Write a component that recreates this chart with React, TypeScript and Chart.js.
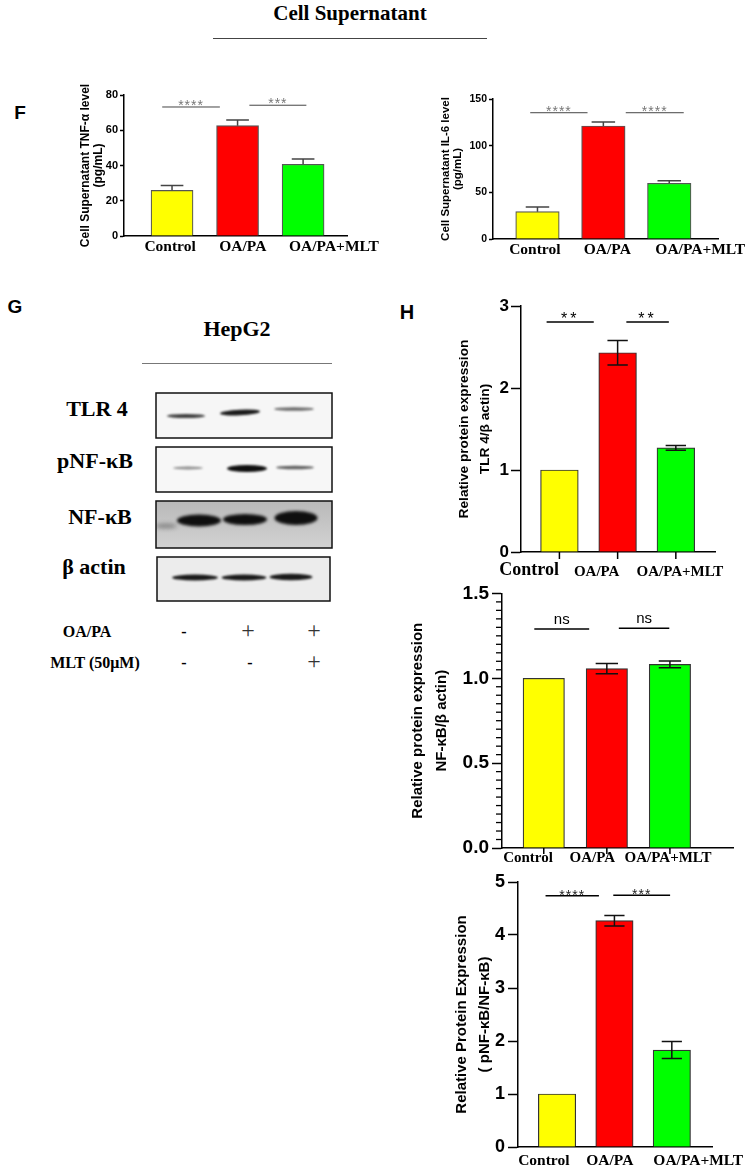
import React, { useEffect, useRef } from 'react';
import { Chart, registerables } from 'chart.js';
Chart.register(...registerables);

const SANS = 'Arial, "Liberation Sans", Helvetica, sans-serif';
const SERIF = '"Times New Roman", "Liberation Serif", Times, serif';

// ---------- data ----------
const categories = ['Control', 'OA/PA', 'OA/PA+MLT'];
const barColors = ['#FFFF00', '#FF0000', '#00FF00'];

const tnfMean = [25.9, 62.6, 40.7];
const tnfErr = [2.7, 3.2, 3.0];
const tnfTicks = [0, 20, 40, 60, 80];

const il6Mean = [29.3, 121.1, 59.7];
const il6Err = [5.0, 4.3, 2.8];
const il6Ticks = [0, 50, 100, 150];

const tlr4Mean = [1.0, 2.43, 1.27];
const tlr4Err = [0, 0.15, 0.03];
const tlr4Ticks = [0, 1, 2, 3];

const nfkbMean = [1.0, 1.057, 1.082];
const nfkbErr = [0, 0.03, 0.02];
const nfkbTicks = [0, 0.5, 1.0, 1.5];

const pnfMean = [1.0, 4.27, 1.83];
const pnfErr = [0, 0.1, 0.16];
const pnfTicks = [0, 1, 2, 3, 4, 5];

// significance annotations (data units)
const tnfSig = [
  { from: -0.15, to: 0.73, y: 73.2, text: '****' },
  { from: 1.18, to: 2.05, y: 74.2, text: '***' },
];
const il6Sig = [
  { from: -0.11, to: 0.76, y: 135.3, text: '****' },
  { from: 1.34, to: 2.22, y: 135.3, text: '****' },
];
const tlr4Sig = [
  { from: -0.22, to: 0.59, y: 2.805, text: '**' },
  { from: 1.15, to: 1.88, y: 2.805, text: '**' },
];
const nfkbSig = [
  { from: -0.15, to: 0.72, y: 1.29, text: 'ns' },
  { from: 1.19, to: 1.99, y: 1.294, text: 'ns' },
];
const pnfSig = [
  { from: -0.2, to: 0.73, y: 4.74, text: '****' },
  { from: 0.98, to: 1.97, y: 4.75, text: '***' },
];

const blotRows = ['TLR 4', 'pNF-\u03BAB', 'NF-\u03BAB', '\u03B2 actin'];
const oaPaRow = ['-', '+', '+'];
const mltRow = ['-', '-', '+'];

// ---------- chart specs ----------
const specs: any[] = [
  {
    key: 'tnf', mean: tnfMean, err: tnfErr, ticks: tnfTicks, fmt: (v: number) => String(v), both: false,
    title: ['Cell Supernatant TNF-\u03B1 level', '(pg/mL)'], titleSize: 12, titleLH: 13 / 12, titlePad: 9.5,
    left: 70, top: 83, w: 337, h: 183, padTop: 12, padRight: 60, yAxisW: 54, xAxisH: 30,
    yTickSize: 11, yTickLen: 4, yPad: 2, axisW: 1.5,
    xMin: -0.733, xMax: 2.67, labelAt: [-0.03, 1.08, 2.47], barW: 42,
    xFont: () => ({ family: SERIF, weight: 'bold', size: 15.5, lineHeight: 1.2 }), xPad: 2, xTickLen: 0,
    sig: tnfSig, sigFont: `14px ${SANS}`, sigSpacing: '1px', sigColor: '#777', lineColor: '#444', sigLW: 1, sigDy: 3,
    errColor: '#444', errLW: 1.5, border: '#555',
  },
  {
    key: 'il6', mean: il6Mean, err: il6Err, ticks: il6Ticks, fmt: (v: number) => String(v), both: false,
    title: ['Cell Supernatant IL-6 level', '(pg/mL)'], titleSize: 11.5, titleLH: 12 / 11.5, titlePad: 8,
    left: 432, top: 87, w: 326, h: 182, padTop: 12, padRight: 40, yAxisW: 61, xAxisH: 30,
    yTickSize: 10.5, yTickLen: 4, yPad: 2, axisW: 1.5,
    xMin: -0.675, xMax: 2.74, labelAt: [-0.04, 1.06, 2.47], barW: 43.5,
    xFont: () => ({ family: SERIF, weight: 'bold', size: 15.5, lineHeight: 1.2 }), xPad: 2, xTickLen: 0,
    sig: il6Sig, sigFont: `14px ${SANS}`, sigSpacing: '1px', sigColor: '#777', lineColor: '#444', sigLW: 1, sigDy: 3,
    errColor: '#444', errLW: 1.5, border: '#555',
  },
  {
    key: 'tlr4', mean: tlr4Mean, err: tlr4Err, ticks: tlr4Ticks, fmt: (v: number) => String(v), both: true,
    title: ['Relative protein expression', 'TLR 4/\u03B2 actin)'], titleSize: 13.7, titleLH: 21 / 13.7, titlePad: 9.5,
    left: 444, top: 292, w: 292, h: 290, padTop: 14, padRight: 20, yAxisW: 77, xAxisH: 30,
    yTickSize: 17, yTickLen: 10, yPad: 2, axisW: 1.5,
    xMin: -0.66, xMax: 2.68, labelAt: [-0.52, 0.64, 2.07], barW: 37.7,
    xFont: (c: any) => (c.index === 0
      ? { family: SERIF, weight: 'bold', size: 18, lineHeight: 1 }
      : { family: SERIF, weight: 'bold', size: 15, lineHeight: 1.53 }),
    xPad: 9, xTickLen: 7,
    sig: tlr4Sig, sigFont: `16px ${SANS}`, sigSpacing: '3px', sigColor: '#000', lineColor: '#000', sigLW: 1.5, sigDy: 2,
    errColor: '#111', errLW: 1.5, border: '#333',
  },
  {
    key: 'nfkb', mean: nfkbMean, err: nfkbErr, ticks: nfkbTicks, fmt: (v: number) => v.toFixed(1), both: true,
    title: ['Relative protein expression', 'NF-\u03BAB/\u03B2 actin)'], titleSize: 15, titleLH: 1.6, titlePad: 6,
    left: 400, top: 579, w: 343, h: 294, padTop: 14, padRight: 10, yAxisW: 102, xAxisH: 25,
    yTickSize: 19, yTickLen: 10, yPad: 3, axisW: 1.5, minorStep: 0.05, minorLen: 6,
    xMin: -0.662, xMax: 3.0, labelAt: [-0.25, 0.77, 1.97], barW: 41.4,
    xFont: () => ({ family: SERIF, weight: 'bold', size: 15, lineHeight: 1.2 }), xPad: 1, xTickLen: 6,
    sig: nfkbSig, sigFont: `15px ${SANS}`, sigSpacing: '0px', sigColor: '#000', lineColor: '#000', sigLW: 1.5, sigDy: -5,
    errColor: '#111', errLW: 1.5, border: '#333',
  },
  {
    key: 'pnf', mean: pnfMean, err: pnfErr, ticks: pnfTicks, fmt: (v: number) => String(v), both: true,
    title: ['Relative Protein Expression', '( pNF-\u03BAB/NF-\u03BAB)'], titleSize: 15, titleLH: 23 / 15, titlePad: 6.2,
    left: 444, top: 868, w: 308, h: 309, padTop: 14, padRight: 40, yAxisW: 74, xAxisH: 30,
    yTickSize: 18, yTickLen: 10, yPad: 3, axisW: 1.5,
    xMin: -0.68, xMax: 2.7, labelAt: [-0.23, 0.92, 2.46], barW: 37.4,
    xFont: () => ({ family: SERIF, weight: 'bold', size: 15.5, lineHeight: 1.2 }), xPad: 5, xTickLen: 0,
    sig: pnfSig, sigFont: `14px ${SANS}`, sigSpacing: '1px', sigColor: '#222', lineColor: '#000', sigLW: 1.5, sigDy: 4,
    errColor: '#111', errLW: 1.5, border: '#333',
  },
];

function makeExtras(s: any) {
  return {
    id: 'extras_' + s.key,
    afterDatasetsDraw(chart: any) {
      const { ctx, chartArea } = chart;
      const x = chart.scales.x;
      const y = chart.scales.y;
      ctx.save();
      // error bars
      ctx.strokeStyle = s.errColor;
      ctx.lineWidth = s.errLW;
      const cap = s.barW * 0.27;
      s.mean.forEach((m: number, i: number) => {
        const e = s.err[i];
        if (!e) return;
        const px = x.getPixelForValue(i);
        const top = y.getPixelForValue(m + e);
        const bot = s.both ? y.getPixelForValue(m - e) : y.getPixelForValue(m);
        ctx.beginPath();
        ctx.moveTo(px, top);
        ctx.lineTo(px, bot);
        ctx.moveTo(px - cap, top);
        ctx.lineTo(px + cap, top);
        if (s.both) {
          ctx.moveTo(px - cap, bot);
          ctx.lineTo(px + cap, bot);
        }
        ctx.stroke();
      });
      // x tick marks at bar centres
      if (s.xTickLen) {
        ctx.strokeStyle = '#000';
        ctx.lineWidth = 1.5;
        s.mean.forEach((_m: number, i: number) => {
          const px = x.getPixelForValue(i);
          ctx.beginPath();
          ctx.moveTo(px, chartArea.bottom);
          ctx.lineTo(px, chartArea.bottom + s.xTickLen);
          ctx.stroke();
        });
      }
      // minor y ticks
      if (s.minorStep) {
        ctx.strokeStyle = '#000';
        ctx.lineWidth = 1.3;
        const lo = s.ticks[0];
        const hi = s.ticks[s.ticks.length - 1];
        const n = Math.round((hi - lo) / s.minorStep);
        for (let k = 0; k <= n; k++) {
          const v = lo + k * s.minorStep;
          if (s.ticks.some((t: number) => Math.abs(t - v) < 1e-6)) continue;
          const py = y.getPixelForValue(v);
          ctx.beginPath();
          ctx.moveTo(chartArea.left - s.minorLen, py);
          ctx.lineTo(chartArea.left, py);
          ctx.stroke();
        }
      }
      // significance lines
      s.sig.forEach((g: any) => {
        const x1 = x.getPixelForValue(g.from);
        const x2 = x.getPixelForValue(g.to);
        const py = y.getPixelForValue(g.y);
        ctx.strokeStyle = s.lineColor;
        ctx.lineWidth = s.sigLW;
        ctx.beginPath();
        ctx.moveTo(x1, py);
        ctx.lineTo(x2, py);
        ctx.stroke();
        ctx.fillStyle = s.sigColor;
        ctx.font = s.sigFont;
        (ctx as any).letterSpacing = s.sigSpacing;
        ctx.textAlign = 'center';
        ctx.textBaseline = 'alphabetic';
        ctx.fillText(g.text, (x1 + x2) / 2, py + s.sigDy);
      });
      ctx.restore();
    },
  };
}

function makeConfig(s: any): any {
  const data = s.mean.map((v: number, i: number) => ({ x: i, y: v }));
  return {
    type: 'bar',
    data: {
      datasets: [
        {
          data,
          backgroundColor: barColors,
          borderColor: s.border,
          borderWidth: 1.2,
          barThickness: s.barW,
        },
      ],
    },
    options: {
      responsive: false,
      animation: false,
      devicePixelRatio: 1,
      layout: { padding: { top: s.padTop, right: s.padRight, left: 0, bottom: 0 } },
      plugins: { legend: { display: false }, tooltip: { enabled: false } },
      scales: {
        x: {
          type: 'linear',
          min: s.xMin,
          max: s.xMax,
          offset: false,
          afterBuildTicks: (a: any) => {
            a.ticks = s.labelAt.map((v: number) => ({ value: v }));
          },
          afterFit: (a: any) => {
            a.height = s.xAxisH;
          },
          grid: { display: false, drawTicks: false },
          border: { display: true, color: '#000', width: s.axisW },
          ticks: {
            autoSkip: false,
            maxRotation: 0,
            minRotation: 0,
            padding: s.xPad,
            color: '#000',
            font: s.xFont,
            callback: (_v: any, i: number) => categories[i],
          },
        },
        y: {
          type: 'linear',
          min: s.ticks[0],
          max: s.ticks[s.ticks.length - 1],
          afterBuildTicks: (a: any) => {
            a.ticks = s.ticks.map((v: number) => ({ value: v }));
          },
          afterFit: (a: any) => {
            a.width = s.yAxisW;
          },
          grid: {
            display: true,
            drawOnChartArea: false,
            drawTicks: true,
            tickLength: s.yTickLen,
            color: '#000',
            tickColor: '#000',
            tickWidth: s.axisW,
          },
          border: { display: true, color: '#000', width: s.axisW },
          ticks: {
            padding: s.yPad,
            color: '#000',
            font: { family: SANS, weight: 'bold', size: s.yTickSize },
            callback: (v: number) => s.fmt(v),
          },
          title: {
            display: true,
            text: s.title,
            color: '#000',
            font: { family: SANS, weight: 'bold', size: s.titleSize, lineHeight: s.titleLH },
            padding: { top: s.titlePad, bottom: 0 },
          },
        },
      },
    },
    plugins: [makeExtras(s)],
  };
}

function BarPanel({ spec }: { spec: any }) {
  const ref = useRef<HTMLCanvasElement>(null);
  useEffect(() => {
    const chart = new Chart(ref.current as HTMLCanvasElement, makeConfig(spec));
    return () => chart.destroy();
  }, [spec]);
  return (
    <canvas
      ref={ref}
      width={spec.w}
      height={spec.h}
      style={{ position: 'absolute', left: spec.left, top: spec.top, width: spec.w, height: spec.h }}
    />
  );
}

// ---------- western blot picture ----------
const BLOT_L = 150;
const BLOT_T = 385;
const BLOT_W = 190;
const BLOT_H = 225;

function drawBlot(ctx: CanvasRenderingContext2D) {
  ctx.clearRect(0, 0, BLOT_W, BLOT_H);
  ctx.save();
  ctx.translate(-BLOT_L, -BLOT_T);

  const box = (x: number, y: number, w: number, h: number, fill: any, bands: any[]) => {
    ctx.save();
    ctx.fillStyle = fill;
    ctx.fillRect(x, y, w, h);
    ctx.beginPath();
    ctx.rect(x, y, w, h);
    ctx.clip();
    bands.forEach((b) => {
      ctx.save();
      ctx.filter = `blur(${b.blur}px)`;
      ctx.fillStyle = `rgba(15,15,15,${b.a})`;
      ctx.beginPath();
      ctx.ellipse(b.cx, b.cy, b.w / 2, b.h / 2, b.tilt || 0, 0, Math.PI * 2);
      ctx.fill();
      ctx.restore();
    });
    ctx.restore();
    ctx.strokeStyle = '#111';
    ctx.lineWidth = 1.5;
    ctx.strokeRect(x, y, w, h);
  };

  box(156, 393, 176, 45, '#f6f6f6', [
    { cx: 186, cy: 416, w: 38, h: 4, a: 0.8, blur: 1.2 },
    { cx: 240, cy: 412.5, w: 40, h: 5.5, a: 0.95, blur: 1.2, tilt: -0.05 },
    { cx: 294, cy: 409, w: 40, h: 3.5, a: 0.6, blur: 1.2 },
  ]);
  box(156, 447, 176, 45, '#f7f7f7', [
    { cx: 188, cy: 468, w: 30, h: 3, a: 0.45, blur: 1.3 },
    { cx: 247, cy: 468.5, w: 40, h: 7, a: 1, blur: 1.2 },
    { cx: 295, cy: 467.5, w: 38, h: 3.5, a: 0.65, blur: 1.2 },
  ]);
  const g = ctx.createLinearGradient(0, 501, 0, 548);
  g.addColorStop(0, '#b9b9b9');
  g.addColorStop(1, '#d2d2d2');
  box(156, 501, 176, 47, g, [
    { cx: 166, cy: 526, w: 22, h: 5, a: 0.35, blur: 2 },
    { cx: 199, cy: 520.5, w: 44, h: 12, a: 1, blur: 1.5 },
    { cx: 245, cy: 519.5, w: 44, h: 11, a: 1, blur: 1.5 },
    { cx: 296, cy: 518, w: 43, h: 14, a: 1, blur: 1.5 },
  ]);
  box(157, 557, 173, 44, '#ececec', [
    { cx: 195, cy: 577.5, w: 46, h: 6, a: 0.95, blur: 1.2 },
    { cx: 244, cy: 577.5, w: 45, h: 6, a: 0.95, blur: 1.2 },
    { cx: 291, cy: 577, w: 43, h: 6.5, a: 0.95, blur: 1.2 },
  ]);
  ctx.restore();
}

function Blot() {
  const ref = useRef<HTMLCanvasElement>(null);
  useEffect(() => {
    const c = ref.current as HTMLCanvasElement;
    const ctx = c.getContext('2d') as CanvasRenderingContext2D;
    drawBlot(ctx);
    return () => ctx.clearRect(0, 0, BLOT_W, BLOT_H);
  }, []);
  return (
    <canvas
      ref={ref}
      width={BLOT_W}
      height={BLOT_H}
      style={{ position: 'absolute', left: BLOT_L, top: BLOT_T, width: BLOT_W, height: BLOT_H }}
    />
  );
}

function Txt({ x, y, children, style }: any) {
  return (
    <div
      style={{
        position: 'absolute',
        left: x,
        top: y,
        transform: 'translate(-50%, -50%)',
        whiteSpace: 'nowrap',
        lineHeight: 1,
        color: '#000',
        ...style,
      }}
    >
      {children}
    </div>
  );
}

const serifBold = (size: number) => ({ fontFamily: SERIF, fontWeight: 'bold', fontSize: size });
const sansBold = (size: number) => ({ fontFamily: SANS, fontWeight: 'bold', fontSize: size });

export default function App() {
  const blotY = [409, 461, 517, 567];
  const blotX = [97, 95, 100, 94];
  const laneX = [184, 248, 314];
  return (
    <div
      style={{
        position: 'absolute',
        left: 0,
        top: 0,
        width: 750,
        height: 1168,
        overflow: 'hidden',
        background: '#fff',
      }}
    >
      <Txt x={350} y={13} style={serifBold(21)}>Cell Supernatant</Txt>
      <div style={{ position: 'absolute', left: 213, top: 38, width: 274, height: 1, background: '#444' }} />
      <Txt x={20} y={112} style={sansBold(19)}>F</Txt>
      <Txt x={15} y={306} style={sansBold(19)}>G</Txt>
      <Txt x={407} y={312} style={sansBold(20)}>H</Txt>

      <Txt x={237} y={329} style={serifBold(22)}>HepG2</Txt>
      <div style={{ position: 'absolute', left: 142, top: 363, width: 190, height: 1, background: '#777' }} />
      {blotRows.map((r, i) => (
        <Txt key={r} x={blotX[i]} y={blotY[i]} style={serifBold(22)}>{r}</Txt>
      ))}
      <Blot />
      <Txt x={87} y={632} style={serifBold(16)}>OA/PA</Txt>
      <Txt x={95} y={663} style={serifBold(16)}>MLT (50μM)</Txt>
      {oaPaRow.map((s, i) => (
        <Txt key={'a' + i} x={laneX[i]} y={s === '+' ? 630 : 632}
          style={s === '+' ? { fontFamily: SERIF, fontSize: 24, color: '#333' } : serifBold(16)}>{s}</Txt>
      ))}
      {mltRow.map((s, i) => (
        <Txt key={'b' + i} x={laneX[i] + (i === 1 ? 2 : 0)} y={s === '+' ? 661 : 663}
          style={s === '+' ? { fontFamily: SERIF, fontSize: 24, color: '#333' } : serifBold(16)}>{s}</Txt>
      ))}

      {specs.map((s) => (
        <BarPanel key={s.key} spec={s} />
      ))}
    </div>
  );
}
